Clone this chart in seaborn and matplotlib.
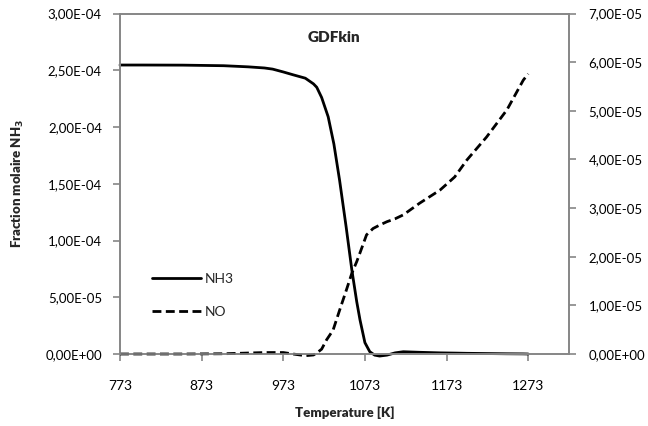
import matplotlib
matplotlib.use("Agg")
import matplotlib.pyplot as plt
import seaborn as sns
import pandas as pd

# Temperature grid [K] and NH3 mole fraction
temp_nh3 = [773, 800, 850, 900, 930, 950, 960, 973, 985, 1000, 1010, 1014, 1020,
            1028, 1035, 1042, 1050, 1057, 1063, 1067, 1073, 1079, 1085, 1091,
            1100, 1110, 1120, 1140, 1165, 1183, 1198, 1222, 1247, 1267, 1273]
nh3 = [2.546e-4, 2.546e-4, 2.545e-4, 2.540e-4, 2.530e-4, 2.520e-4, 2.510e-4,
       2.485e-4, 2.460e-4, 2.430e-4, 2.380e-4, 2.350e-4, 2.260e-4, 2.090e-4,
       1.850e-4, 1.530e-4, 1.120e-4, 0.740e-4, 0.460e-4, 0.300e-4, 0.100e-4,
       0.020e-4, -0.010e-4, -0.018e-4, -0.010e-4, 0.010e-4, 0.020e-4,
       0.015e-4, 0.010e-4, 0.008e-4, 0.006e-4, 0.004e-4, 0.002e-4, 0.001e-4, 0.0]

# Temperature grid [K] and NO mole fraction (secondary axis)
temp_no = [773, 850, 900, 950, 973, 985, 1000, 1010, 1014, 1020, 1026, 1034,
           1042, 1050, 1057, 1063, 1067, 1075, 1083, 1091, 1100, 1110, 1120,
           1140, 1165, 1183, 1198, 1222, 1247, 1267, 1273]
no = [0.0, 0.0, 0.005e-5, 0.03e-5, 0.03e-5, 0.0, -0.035e-5, -0.02e-5, 0.02e-5,
      0.10e-5, 0.29e-5, 0.49e-5, 0.90e-5, 1.30e-5, 1.66e-5, 1.90e-5, 2.08e-5,
      2.45e-5, 2.58e-5, 2.65e-5, 2.72e-5, 2.78e-5, 2.86e-5, 3.10e-5, 3.37e-5,
      3.64e-5, 3.99e-5, 4.46e-5, 5.02e-5, 5.63e-5, 5.76e-5]

x_ticks = [773, 873, 973, 1073, 1173, 1273]
left_ticks = [0, 5e-5, 1e-4, 1.5e-4, 2e-4, 2.5e-4, 3e-4]
right_ticks = [0, 1e-5, 2e-5, 3e-5, 4e-5, 5e-5, 6e-5, 7e-5]

sns.set_style("white")
plt.rcParams["font.family"] = ["Lato", "DejaVu Sans"]

df_nh3 = pd.DataFrame({"T": temp_nh3, "y": nh3})
df_no = pd.DataFrame({"T": temp_no, "y": no})

fig = plt.figure(figsize=(6.48, 4.26), dpi=100)
ax = fig.add_axes([120 / 648, 1 - 354 / 426, 449 / 648, 340.5 / 426])
ax2 = ax.twinx()

sns.lineplot(data=df_nh3, x="T", y="y", ax=ax, color="black", lw=2,
             label="NH3", legend=False)
sns.lineplot(data=df_no, x="T", y="y", ax=ax2, color="black", lw=2,
             linestyle=(0, (3.2, 1.6)), label="NO", legend=False)
for a in (ax, ax2):
    for ln in a.get_lines():
        ln.set_clip_on(False)

grey = "#868686"
ax.set_xlim(773, 1323)
ax.set_ylim(0, 3e-4)
ax2.set_ylim(0, 7e-5)
ax.set_xticks(x_ticks)
ax.set_xticklabels([str(t) for t in x_ticks])
ax.set_yticks(left_ticks)
ax2.set_yticks(right_ticks)


def sci_comma(v):
    s = f"{v:.2E}"
    return s.replace(".", ",")


ax.set_yticklabels([sci_comma(v) for v in left_ticks])
ax2.set_yticklabels([sci_comma(v) for v in right_ticks])

for a in (ax, ax2):
    for sp in a.spines.values():
        sp.set_color(grey)
        sp.set_linewidth(1.2)
    a.tick_params(colors=grey, labelcolor="black", labelsize=9.5, length=5,
                  width=1.2, direction="out")
ax.tick_params(axis="x", pad=14, labelsize=10, bottom=True)
ax.tick_params(axis="y", pad=8, left=True)
ax2.tick_params(axis="y", pad=9, right=True)

ax.set_xlabel("Temperature [K]", fontsize=9.5, fontweight="heavy", labelpad=10)
ax.set_ylabel("Fraction molaire NH$_\\mathbf{3}$", fontsize=9.5,
              fontweight="heavy", labelpad=14)
ax2.set_ylabel("")

fig.text(334 / 648, 1 - 37 / 426, "GDFkin", fontsize=11, fontweight="heavy",
         ha="center", va="center")

h1, l1 = ax.get_legend_handles_labels()
h2, l2 = ax2.get_legend_handles_labels()
ax.legend(h1 + h2, l1 + l2, loc="center left",
          bbox_to_anchor=((152 - 120) / 449, (354 - 295.5) / 340.5),
          frameon=False, fontsize=10, handlelength=3.5, handletextpad=0.3,
          labelspacing=1.55, borderpad=0, borderaxespad=0)

fig.savefig("out.png", dpi=100)
